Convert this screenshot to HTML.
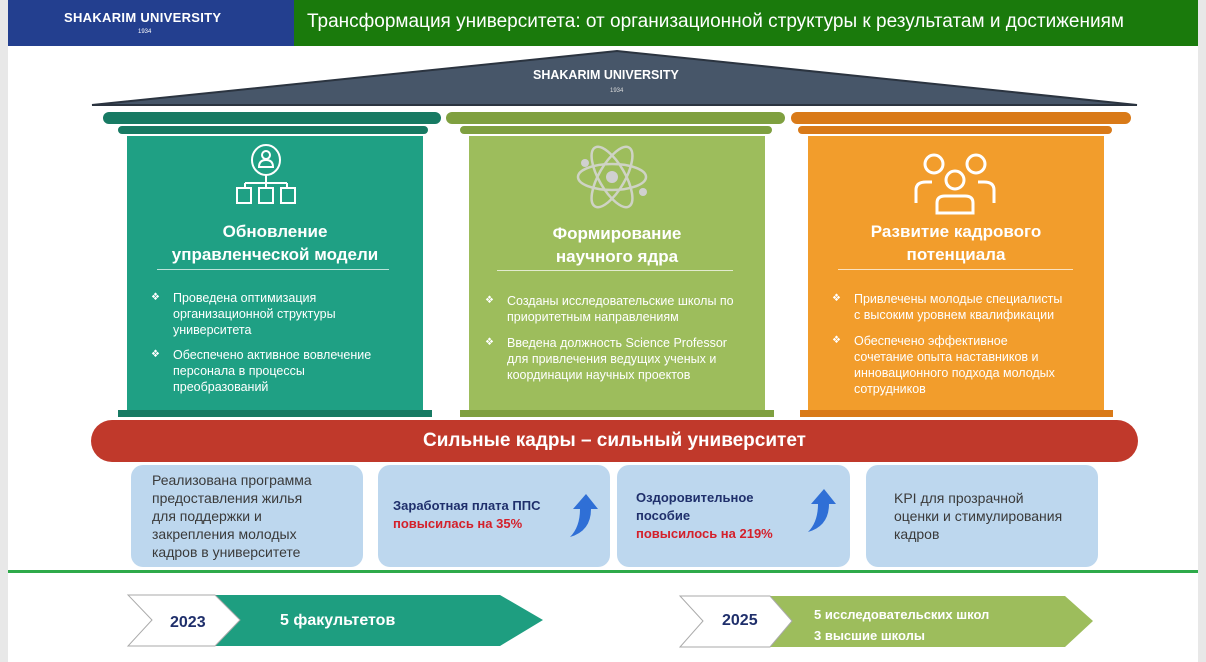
<!DOCTYPE html>
<html><head><meta charset="utf-8"><style>
*{margin:0;padding:0;box-sizing:border-box}
body{width:1206px;height:662px;overflow:hidden;background:#fff;font-family:"Liberation Sans",sans-serif;position:relative}
.a{position:absolute}
.bar{position:absolute;border-radius:7px}
.col{position:absolute;color:#fff}
.h{position:absolute;width:100%;text-align:center;font-weight:bold;font-size:17px;line-height:23px}
.ul{position:absolute;height:1px;background:rgba(255,255,255,.7)}
.li{position:absolute;font-size:12.5px;line-height:16px;color:#fff;padding-left:22px}
.li:before{content:"❖";position:absolute;left:0;font-size:10px}
.card{position:absolute;top:465px;height:102px;background:#bdd7ee;border-radius:12px;font-size:14px;line-height:18px;color:#3a3a3a}
</style></head><body>
<div class="a" style="left:0;top:0;width:8px;height:662px;background:#e8e8e8"></div>
<div class="a" style="left:1198px;top:0;width:8px;height:662px;background:#e8e8e8"></div>
<div class="a" style="left:8px;top:0;width:286px;height:46px;background:#233f8f"></div>
<div class="a" style="left:64px;top:10px;color:#fff;font-weight:bold;font-size:13px;letter-spacing:.3px">SHAKARIM UNIVERSITY</div>
<div class="a" style="left:138px;top:29px;color:#fff;font-size:6px">1934</div>
<div class="a" style="left:294px;top:0;width:904px;height:46px;background:#1a7a0c"></div>
<div class="a" style="left:307px;top:11px;color:#fff;font-size:19px">Трансформация университета: от организационной структуры к результатам и достижениям</div>

<svg class="a" style="left:0;top:0" width="1206" height="662">
<polygon points="92,105 617,51 1137,105" fill="#475669" stroke="#2b3440" stroke-width="2"/>
<polygon points="215,595 500,595 543,620 500,646 215,646 240,620" fill="#1e9e80"/>
<polygon points="128,595 215,595 240,620 215,646 128,646 152,620" fill="#fff" stroke="#aaa" stroke-width="1"/>
<polygon points="770,596 1065,596 1093,621 1065,647 770,647 792,621" fill="#9dbd5c"/>
<polygon points="680,596 770,596 792,621 770,647 680,647 703,621" fill="#fff" stroke="#aaa" stroke-width="1"/>
</svg>
<div class="a" style="left:533px;top:68px;color:#fff;font-weight:bold;font-size:12.5px">SHAKARIM UNIVERSITY</div>
<div class="a" style="left:610px;top:88px;color:#ddd;font-size:6px">1934</div>

<div class="bar" style="left:103px;top:112px;width:338px;height:12px;background:#177a63"></div>
<div class="bar" style="left:118px;top:126px;width:310px;height:8px;background:#177a63"></div>
<div class="a" style="left:127px;top:136px;width:296px;height:274px;background:#1fa084"></div>
<div class="a" style="left:118px;top:410px;width:314px;height:7px;background:#177a63"></div>
<div class="col" style="left:127px;top:136px;width:296px;height:274px">
<div class="h" style="top:84px">Обновление<br>управленческой модели</div>
<div class="ul" style="left:30px;width:232px;top:133px"></div>
<div class="li" style="left:24px;top:154px">Проведена оптимизация<br>организационной структуры<br>университета</div>
<div class="li" style="left:24px;top:211px">Обеспечено активное вовлечение<br>персонала в процессы<br>преобразований</div>
</div>
<div class="bar" style="left:446px;top:112px;width:339px;height:12px;background:#7fa040"></div>
<div class="bar" style="left:460px;top:126px;width:312px;height:8px;background:#7fa040"></div>
<div class="a" style="left:469px;top:136px;width:296px;height:274px;background:#9dbd5c"></div>
<div class="a" style="left:460px;top:410px;width:314px;height:7px;background:#7fa040"></div>
<div class="col" style="left:469px;top:136px;width:296px;height:274px">
<div class="h" style="top:86px">Формирование<br>научного ядра</div>
<div class="ul" style="left:28px;width:236px;top:134px"></div>
<div class="li" style="left:16px;top:157px">Созданы исследовательские школы по<br>приоритетным направлениям</div>
<div class="li" style="left:16px;top:199px">Введена должность Science Professor<br>для привлечения ведущих ученых и<br>координации научных проектов</div>
</div>
<div class="bar" style="left:791px;top:112px;width:340px;height:12px;background:#d97a18"></div>
<div class="bar" style="left:798px;top:126px;width:314px;height:8px;background:#d97a18"></div>
<div class="a" style="left:808px;top:136px;width:296px;height:274px;background:#f29d2c"></div>
<div class="a" style="left:800px;top:410px;width:313px;height:7px;background:#d97a18"></div>
<div class="col" style="left:808px;top:136px;width:296px;height:274px">
<div class="h" style="top:84px">Развитие кадрового<br>потенциала</div>
<div class="ul" style="left:30px;width:235px;top:133px"></div>
<div class="li" style="left:24px;top:155px">Привлечены молодые специалисты<br>с высоким уровнем квалификации</div>
<div class="li" style="left:24px;top:197px">Обеспечено эффективное<br>сочетание опыта наставников и<br>инновационного подхода молодых<br>сотрудников</div>
</div>

<div class="a" style="left:91px;top:420px;width:1047px;height:42px;background:#c0392b;border-radius:21px;color:#fff;font-weight:bold;font-size:19px;text-align:center;line-height:42px">Сильные кадры – сильный университет</div>

<div class="card" style="left:131px;width:232px;padding:6px 0 0 21px">Реализована программа<br>предоставления жилья<br>для поддержки и<br>закрепления молодых<br>кадров в университете</div>
<div class="card" style="left:378px;width:232px;padding:32px 0 0 15px;font-weight:bold;font-size:13px"><span style="color:#1f2f6b">Заработная плата ППС</span><br><span style="color:#d4202a">повысилась на 35%</span></div>
<div class="card" style="left:617px;width:233px;padding:24px 0 0 19px;font-weight:bold;font-size:13px"><span style="color:#1f2f6b">Оздоровительное<br>пособие</span><br><span style="color:#d4202a">повысилось на 219%</span></div>
<div class="card" style="left:866px;width:232px;padding:24px 0 0 28px">KPI для прозрачной<br>оценки и стимулирования<br>кадров</div>

<div class="a" style="left:8px;top:570px;width:1190px;height:3px;background:#2eaa4a"></div>

<div class="a" style="left:170px;top:614px;font-weight:bold;font-size:16px;color:#1f2f6b">2023</div>
<div class="a" style="left:280px;top:612px;font-weight:bold;font-size:16px;color:#fff">5 факультетов</div>
<div class="a" style="left:722px;top:612px;font-weight:bold;font-size:16px;color:#1f2f6b">2025</div>
<div class="a" style="left:814px;top:604px;font-weight:bold;font-size:13px;line-height:21px;color:#fff">5 исследовательских школ<br>3 высшие школы</div>

<svg class="a" style="left:0;top:0" width="1206" height="662">
<g stroke="#fff" stroke-width="2" fill="none">
<ellipse cx="266" cy="160" rx="14" ry="15"/><circle cx="266" cy="155" r="4"/><path d="M259,167 q0,-7 7,-7 q7,0 7,7z"/>
<path d="M266,175 v8 M245,183 h42 M245,183 v5 M266,183 v5 M287,183 v5"/>
<rect x="237" y="188" width="14" height="15"/><rect x="259" y="188" width="14" height="15"/><rect x="281" y="188" width="14" height="15"/>
</g>
<g stroke="#d8d8d8" stroke-width="2.5" fill="none" opacity=".85">
<ellipse cx="612" cy="177" rx="34" ry="13"/>
<ellipse cx="612" cy="177" rx="34" ry="13" transform="rotate(60 612 177)"/>
<ellipse cx="612" cy="177" rx="34" ry="13" transform="rotate(-60 612 177)"/>
</g>
<g fill="#d0d0d0"><circle cx="612" cy="177" r="6"/><circle cx="585" cy="163" r="4"/><circle cx="643" cy="192" r="4"/></g>
<g stroke="#fff" stroke-width="3" fill="none">
<circle cx="934" cy="164" r="9"/><circle cx="976" cy="164" r="9"/><circle cx="955" cy="180" r="9"/>
<path d="M916,203 v-13 q0,-8 10,-8 h6 M994,203 v-13 q0,-8 -10,-8 h-6"/>
<path d="M937,213 v-10 q0,-7 8,-7 h20 q8,0 8,7 v10 z"/>
</g>
<path d="M570,537 q10,-10 10,-28 l-7,0 l13,-15 l12,15 l-7,0 q0,22 -21,28z" fill="#2f6fd6"/>
<path d="M808,532 q10,-10 10,-28 l-7,0 l13,-15 l12,15 l-7,0 q0,22 -21,28z" fill="#2f6fd6"/>
</svg>
</body></html>
